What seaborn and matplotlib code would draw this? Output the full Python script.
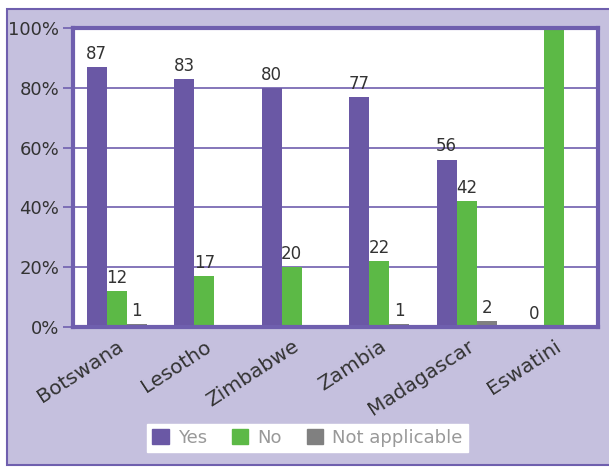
import pandas as pd
import matplotlib.pyplot as plt
import seaborn as sns
from matplotlib.patches import Rectangle

countries = ['Botswana', 'Lesotho', 'Zimbabwe', 'Zambia', 'Madagascar', 'Eswatini']
yes = [87, 83, 80, 77, 56, 0]
no = [12, 17, 20, 22, 42, 100]
not_applicable = [1, 0, 0, 1, 2, 0]
series = ['Yes', 'No', 'Not applicable']

df = pd.DataFrame({
    'Country': countries * 3,
    'Response': ['Yes'] * 6 + ['No'] * 6 + ['Not applicable'] * 6,
    'Value': yes + no + not_applicable,
})

purple = '#6a58a5'
green = '#5cb946'
grey = '#808080'
lavender = '#c5c0de'
border = '#6f5fae'

sns.set_style('white')
plt.rcParams['font.family'] = ['DejaVu Sans']

fig = plt.figure(figsize=(6.09, 4.67), dpi=100, facecolor='white')
# lavender panel with purple border behind everything
fig.patches.append(Rectangle((7 / 609, 2 / 467), 1.0, 456 / 467, transform=fig.transFigure,
                             facecolor=lavender, edgecolor=border, linewidth=1.5, zorder=-5))

ax = fig.add_axes([73 / 609, 1 - 327 / 467, 525 / 609, 299 / 467])
sns.barplot(data=df, x='Country', y='Value', hue='Response', hue_order=series,
            palette=[purple, green, grey], width=0.69, ax=ax, saturation=1, linewidth=0)

ax.set_facecolor('white')
ax.set_ylim(0, 100)
ax.set_yticks([0, 20, 40, 60, 80, 100])
ax.set_yticklabels(['0%', '20%', '40%', '60%', '80%', '100%'], fontsize=13, color='#333333')
ax.yaxis.grid(True, color=border, linewidth=1.2)
ax.set_axisbelow(True)
ax.tick_params(axis='y', length=7, width=1.2, color=border, pad=3, left=True)
ax.tick_params(axis='x', length=0, pad=7)
ax.set_xticks(range(len(countries)))
ax.set_xticklabels(countries, rotation=33, ha='right', rotation_mode='anchor',
                   fontsize=14.5, color='#333333')
ax.set_xlabel('')
ax.set_ylabel('')
for s in ax.spines.values():
    s.set_color(border)
    s.set_linewidth(3)

# value labels above bars (zero grey bars and the clipped 100 bar are not labelled)
label_sets = [
    [str(v) for v in yes],
    [str(v) if v < 100 else '' for v in no],
    [str(v) if v > 0 else '' for v in not_applicable],
]
for cont, labels in zip(ax.containers, label_sets):
    ax.bar_label(cont, labels=labels, fontsize=12, color='#333333', padding=3)

ax.legend_.remove()
handles = [Rectangle((0, 0), 1, 1, color=c) for c in [purple, green, grey]]
leg = fig.legend(handles, series, loc='lower center', bbox_to_anchor=(0.505, 0.012), ncol=3,
                 frameon=True, fancybox=False, fontsize=13, handlelength=0.9, handleheight=0.9,
                 columnspacing=1.4, handletextpad=0.5, borderpad=0.3, framealpha=1)
leg.get_frame().set_facecolor('white')
leg.get_frame().set_edgecolor('white')
for t in leg.get_texts():
    t.set_color('#999999')

fig.savefig('out.png', dpi=100, facecolor='white')
